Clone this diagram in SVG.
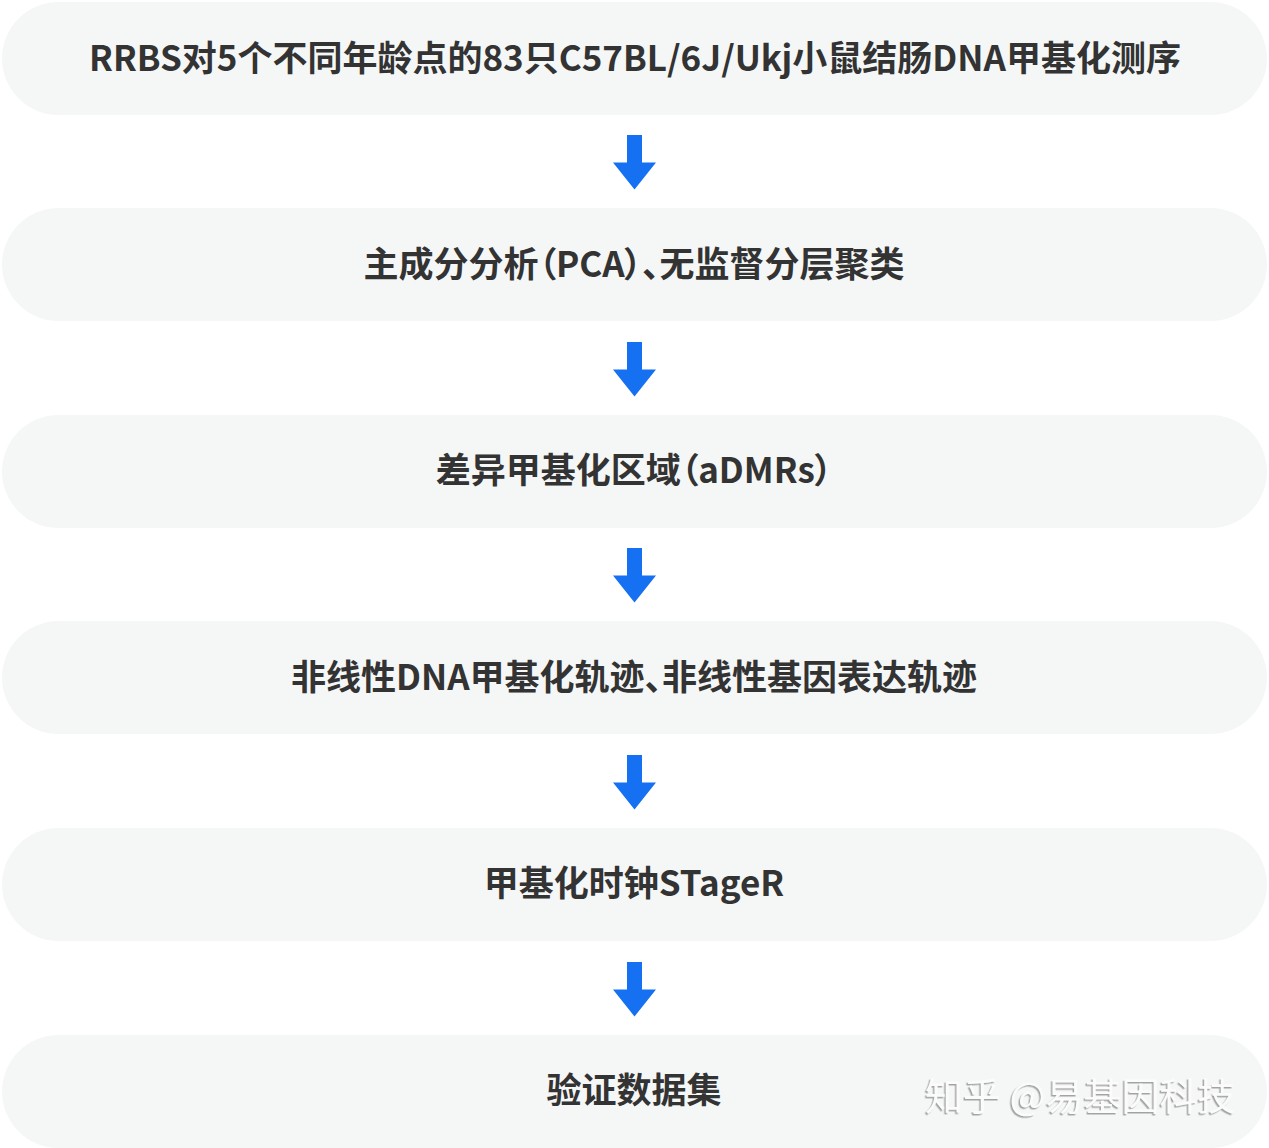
<svg xmlns="http://www.w3.org/2000/svg" width="1269" height="1148" viewBox="0 0 1269 1148">
<style>
.box{fill:#f5f7f7}
.t{font-family:"Noto Sans CJK SC","Noto Sans",sans-serif;font-size:35px;font-weight:700;fill:#333;text-anchor:middle;font-feature-settings:"palt"}
.arr{fill:#1670f2}
.wm{font-family:"Noto Sans CJK SC",sans-serif;font-size:38px;fill:#fbfbfb;filter:url(#sh)}
</style>
<defs>
<filter id="sh" x="-10%" y="-30%" width="120%" height="160%"><feDropShadow dx="-1.5" dy="1.5" stdDeviation="0.6" flood-color="#9a9a9a" flood-opacity="0.9"/></filter>
<path id="ar" d="M-7.5,0 H7.5 V27.5 H21.5 L0,54.5 L-21.5,27.5 H-7.5 Z"/>
</defs>
<rect width="1269" height="1148" fill="#fff"/>
<g id="n1"><rect class="box" x="2" y="2" width="1265" height="113" rx="56.5"/><text class="t" x="635" y="71">RRBS对5个不同年龄点的83只C57BL/6J/Ukj小鼠结肠DNA甲基化测序</text></g>
<g id="n2"><rect class="box" x="2" y="208" width="1265" height="113" rx="56.5"/><text class="t" x="634" y="277">主成分分析（PCA）、无监督分层聚类</text></g>
<g id="n3"><rect class="box" x="2" y="415" width="1265" height="113" rx="56.5"/><text class="t" x="634" y="483">差异甲基化区域（aDMRs）</text></g>
<g id="n4"><rect class="box" x="2" y="621" width="1265" height="113" rx="56.5"/><text class="t" x="634" y="690">非线性DNA甲基化轨迹、非线性基因表达轨迹</text></g>
<g id="n5"><rect class="box" x="2" y="828" width="1265" height="113" rx="56.5"/><text class="t" x="634" y="896">甲基化时钟STageR</text></g>
<g id="n6"><rect class="box" x="2" y="1035" width="1265" height="113" rx="56.5"/><text class="t" x="634" y="1103">验证数据集</text></g>
<g id="connectors">
<use href="#ar" class="arr" x="634.5" y="135"/>
<use href="#ar" class="arr" x="634.5" y="342"/>
<use href="#ar" class="arr" x="634.5" y="548"/>
<use href="#ar" class="arr" x="634.5" y="755"/>
<use href="#ar" class="arr" x="634.5" y="962"/>
</g>
<text class="wm" x="925" y="1110">知乎 @易基因科技</text>
</svg>
